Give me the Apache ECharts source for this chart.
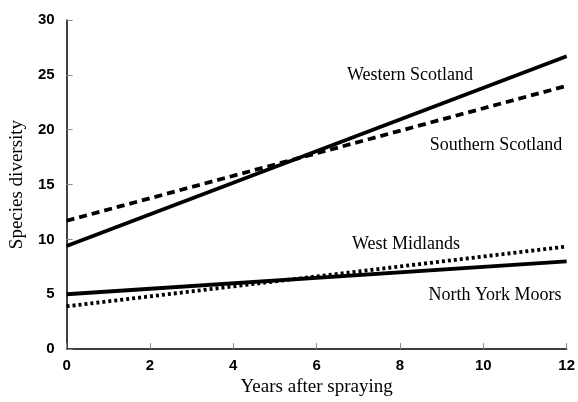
<!DOCTYPE html>
<html>
<head>
<meta charset="utf-8">
<script src="https://cdn.jsdelivr.net/npm/echarts@6/dist/echarts.min.js"></script>
<style>
  html, body { margin: 0; padding: 0; background: #fff; }
  #chart { width: 578px; height: 402px; }
</style>
</head>
<body>
<div id="chart"></div>
<script>
// Fitted trend lines of species diversity: value at year 0 and at year 12
const years = [0, 12];
const westernScotland = [9.4, 26.7];
const southernScotland = [11.7, 24.0];
const westMidlands = [3.9, 9.35];
const northYorkMoors = [5.0, 8.0];
const xTicks = [0, 2, 4, 6, 8, 10, 12];
const yTicks = [0, 5, 10, 15, 20, 25, 30];

const pairs = vals => years.map((x, i) => [x, vals[i]]);

const chart = echarts.init(document.getElementById('chart'), null, { renderer: 'canvas' });

const tickFont = { fontFamily: 'Liberation Sans', fontWeight: 'bold', fontSize: 15, color: '#000' };
const serif = 'Liberation Serif';

function lineSeries(name, vals, type) {
  return {
    name, type: 'line', data: pairs(vals), symbol: 'none', silent: true,
    lineStyle: { color: '#000', width: 3.8, type: type, cap: 'butt' }
  };
}

function label(text, x, y) {
  return {
    type: 'text', x, y,
    style: { text, font: '18px ' + serif, fill: '#000', textAlign: 'center', textVerticalAlign: 'middle' }
  };
}

chart.setOption({
  animation: false,
  grid: { left: 65, right: 11, top: 20, bottom: 50 },
  xAxis: {
    type: 'value', min: xTicks[0], max: xTicks[xTicks.length - 1], interval: 2,
    axisLine: { lineStyle: { color: '#000', width: 1.5 } },
    axisTick: { inside: true, length: 6, lineStyle: { color: '#888' } },
    splitLine: { show: false },
    axisLabel: Object.assign({ margin: 9 }, tickFont),
    name: 'Years after spraying', nameLocation: 'middle', nameGap: 24,
    nameTextStyle: { fontFamily: serif, fontSize: 19, color: '#000' }
  },
  yAxis: {
    type: 'value', min: yTicks[0], max: yTicks[yTicks.length - 1], interval: 5,
    axisLine: { show: true, lineStyle: { color: '#000', width: 1.5 } },
    axisTick: { show: true, inside: true, length: 6, lineStyle: { color: '#888' } },
    splitLine: { show: false },
    axisLabel: Object.assign({ margin: 12 }, tickFont),
    name: 'Species diversity', nameLocation: 'middle', nameGap: 34,
    nameTextStyle: { fontFamily: serif, fontSize: 19, color: '#000' }
  },
  series: [
    lineSeries('Western Scotland', westernScotland, 'solid'),
    lineSeries('Southern Scotland', southernScotland, [8, 5]),
    lineSeries('West Midlands', westMidlands, [3, 3]),
    lineSeries('North York Moors', northYorkMoors, 'solid')
  ],
  graphic: [
    label('Western Scotland', 410, 75),
    label('Southern Scotland', 496, 145),
    label('West Midlands', 406, 244),
    label('North York Moors', 495, 295)
  ]
});
</script>
</body>
</html>
